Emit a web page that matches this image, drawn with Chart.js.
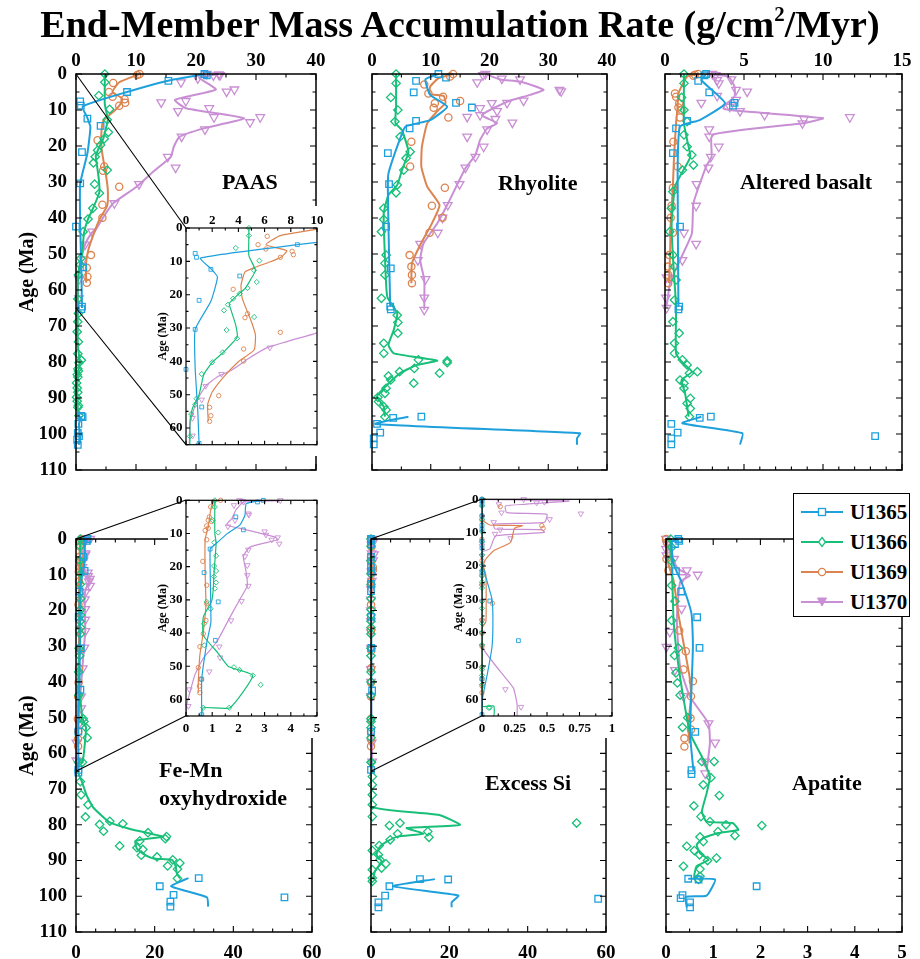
<!DOCTYPE html>
<html>
<head>
<meta charset="utf-8">
<script src="https://cdn.jsdelivr.net/npm/chart.js@4/dist/chart.umd.min.js"></script>
<style>
  html, body { margin: 0; padding: 0; background: #fff; }
  #page { position: relative; width: 920px; height: 959px; overflow: hidden; background: #fff;
          font-family: 'Liberation Serif', 'Times New Roman', serif; font-weight: bold; color: #000; }
  #title { position: absolute; left: 0; top: 0; width: 920px; height: 48px; line-height: 48px;
           text-align: center; font-size: 38px; z-index: 6; white-space: nowrap; }
  #title sup { font-size: 0.55em; line-height: 0; vertical-align: 0.75em; }
  canvas.plot { position: absolute; }
  canvas.main { z-index: 1; }
  canvas.inset { z-index: 2; }
  #links { position: absolute; left: 0; top: 0; z-index: 3; pointer-events: none; }
  .tag { position: absolute; font-size: 22px; line-height: 24px; white-space: nowrap; z-index: 5; }
  #legend { position: absolute; left: 793px; top: 493px; width: 117px; height: 124px; box-sizing: border-box;
            border: 1.5px solid #000; background: #fff; z-index: 4; }
  #legend .row { position: absolute; left: 0; height: 30px; width: 114px; }
  #legend svg { position: absolute; left: 6px; top: 0; }
  #legend span { position: absolute; left: 56px; top: 0; font-size: 21px; line-height: 30px; }
</style>
</head>
<body>
<div id="page">
  <div id="title">End-Member Mass Accumulation Rate (g/cm<sup>2</sup>/Myr)</div>

  <div class="tag" style="left:222px;top:170px">PAAS</div>
  <div class="tag" style="left:498px;top:171px">Rhyolite</div>
  <div class="tag" style="left:740px;top:170px">Altered basalt</div>
  <div class="tag" style="left:159px;top:756px;line-height:28px">Fe-Mn<br>oxyhydroxide</div>
  <div class="tag" style="left:485px;top:771px">Excess Si</div>
  <div class="tag" style="left:792px;top:771px">Apatite</div>

  <div id="legend">
    <div class="row" style="top:2.5px">
      <svg width="46" height="30"><line x1="1" y1="15" x2="43" y2="15" stroke="#1ea0dc" stroke-width="2"/>
        <rect x="18.5" y="11.5" width="7" height="7" fill="#fff" stroke="#1ea0dc" stroke-width="1.3"/></svg>
      <span>U1365</span>
    </div>
    <div class="row" style="top:32.5px">
      <svg width="46" height="30"><line x1="1" y1="15" x2="43" y2="15" stroke="#17bf78" stroke-width="2"/>
        <polygon points="22,10.5 25.5,15 22,19.5 18.5,15" fill="#fff" stroke="#17bf78" stroke-width="1.3"/></svg>
      <span>U1366</span>
    </div>
    <div class="row" style="top:62.5px">
      <svg width="46" height="30"><line x1="1" y1="15" x2="43" y2="15" stroke="#dc8450" stroke-width="2"/>
        <circle cx="22" cy="15" r="3.6" fill="#fff" stroke="#dc8450" stroke-width="1.3"/></svg>
      <span>U1369</span>
    </div>
    <div class="row" style="top:92.5px">
      <svg width="46" height="30"><line x1="1" y1="15" x2="43" y2="15" stroke="#c98fd4" stroke-width="2"/>
        <polygon points="17.5,11 26.5,11 22,19" fill="#c98fd4" stroke="#c98fd4" stroke-width="1"/></svg>
      <span>U1370</span>
    </div>
  </div>

  <canvas id="links" width="920" height="959"></canvas>
</div>

<script>
// ─── Sites ────────────────────────────────────────────────────────────────────

const SITES = ['U1365', 'U1366', 'U1369', 'U1370'];
const SITE_COLORS = ['#1ea0dc', '#17bf78', '#dc8450', '#c98fd4'];
const SITE_MARKERS = ['rect', 'rectRot', 'circle', 'triangle'];

// ─── Data: [MAR value, age (Ma)]; null breaks a curve ─────────────────────────

// PAAS
const paas1365 = [[21.4,0],[21.8,0.4],[15.4,1.9],[8.5,5.0],[0.7,7.6],[0.8,8.8],[1.9,12.4],[4.1,14.4],[1.0,21.7],[0.7,30.4],[0,42.4],[1.2,53.7],[1.0,64.6],[0.9,65.3],[0.9,95.0],[1.1,95.3],[0.4,97.2],[0.3,99.7],[0.5,100.6],[0.2,101.6],[0.3,103.0]];
const paas1365Line = [[21.6,0],[15.5,1.8],[8.5,5.0],[1.1,9],[1.9,12.2],[2.4,14.7],[1.9,22],[0.7,30.4],[0.7,42],[0.9,55],[1.0,65],null,[0.9,95],[0.5,97.2],[0.6,100],[0.5,103]];
const paas1366 = [[4.8,0],[4.8,2.3],[3.8,6.0],[5.6,9.8],[5.2,12.7],[5.4,16.2],[4.7,18.0],[4.1,19.7],[3.6,21.2],[3.2,23.0],[2.9,24.7],[5.2,26.7],[3.1,30.6],[3.9,33.1],[2.8,37.3],[2.0,40.3],[1.2,43.8],[0.8,51.2],[0.7,53.0],[0.4,55.8],[0.3,62.5],[0.4,66.5],[0.3,68.8],[0.2,71.6],[0.4,74.4],[0.3,77.7],[0.9,79.5],[0.5,80.2],[0.3,81.9],[0.4,82.5],[0.2,83.5],[0.3,84.2],[0.1,85.8],[0.2,87.2],[0.3,88.4],[0.1,89.8],[0.2,90.9],[0.4,92.1],[0.3,92.6],[0.5,94.9]];
const paas1366Line = [[4.8,0],[4.8,2.3],[4.8,8.3],[5.3,12.7],[4.9,15.7],[4.5,18.2],[3.9,20.2],[3.3,22.7],[3.4,24.2],[3.8,29.2],[3.9,32.8],[2.9,37.1],[2.0,40.3],[1.35,44],[1.0,50],[0.5,54],[0.3,58],[0.3,65],[0.3,75],[0.6,80],[0.3,84],[0.2,90],[0.4,95]];
const paas1369 = [[10.6,0],[10.2,0.3],[6.2,2.5],[5.5,5.0],[6.1,6.3],[8.1,7.0],[8.2,8.0],[7.2,8.8],[3.6,18.4],[4.7,25.7],[4.5,26.9],[7.2,31.3],[4.4,36.3],[4.4,39.9],[2.5,50.3],[1.8,53.8],[1.9,56.3],[1.8,58.0]];
const paas1369Line = [[10.6,0],[7.2,2.3],[6.1,5.0],[7.7,6.8],[7.3,8.6],[6.4,10.2],[5.2,11.9],[4.5,13.2],[4.2,17.2],[4.3,21.2],[5.0,28.2],[5.3,32.1],[5.2,36.6],[4.0,40.1],[2.9,44.6],[2.0,49.2],[1.65,53],[1.7,58]];
const paas1370 = [[21.8,0],[22.9,0.4],[23.8,0.1],[24.0,0.3],[20.3,1.2],[17.5,2.3],[26.4,4.3],[25.1,4.9],[18.3,7.5],[14.2,7.9],[22.2,9.5],[17.0,10.3],[30.7,12.0],[23.0,12.0],[29.0,13.4],[21.5,15.4],[17.6,17.4],[15.3,23.0],[16.6,26.0],[10.5,30.6],[6.4,35.9],[2.7,43.8],[1.5,47.4],[1.2,51.5],[0.5,57.0],[0.5,62.3]];
const paas1370Line = [[23.8,0],[20.5,1.0],[23.3,4.3],[16.5,7.2],[18.3,9.5],[28.0,12.3],[21.3,15.1],[17.3,17.4],[16.3,20.2],[15.8,23],[12.9,27.1],[10.1,31.3],[6.2,35.9],[4.8,39.1],[3.5,42.6],[2.4,44.6],[1.5,47.4],[0.8,52],[0.35,58],[0.25,65]];

// Rhyolite
const rhy1365 = [[11.3,0],[12.6,1.0],[7.5,1.9],[7.1,5.1],[14.3,8.0],[17.0,9.3],[7.5,13.0],[6.4,15.1],[2.7,22.0],[2.9,30.6],[2.4,42.4],[3.2,54.0],[3.1,64.6],[3.2,65.4],[3.6,95.5],[8.4,95.2],[0.85,97.2],[1.4,99.6],[0.3,101.2],[0.3,102.9]];
const rhy1365Line = [[11.3,0],[9.1,1.5],[9.9,5.8],[12.8,9.1],[9.9,12.8],[5.7,14.6],[4.7,18.3],[2.8,27.6],[2.7,32.2],[2.85,46],[3.1,64.6],null,[6.2,95.2],[0.6,97.2],[35.4,99.8],[34.9,101.2],[34.9,103]];
const rhy1366 = [[4.1,0],[4.1,2.6],[3.2,6.5],[4.4,10],[3.9,13.2],[4.8,17.4],[6.5,21.6],[5.8,23.4],[5.4,26.7],[4.3,30.8],[4.1,33],[2.0,37.3],[2.0,40.4],[1.6,43.8],[2.4,50.3],[2.2,52.6],[2.2,55.8],[1.6,62.3],[4.3,67],[4.4,69],[4.4,72],[2.0,74.8],[2.0,77.6],[7.9,79.4],[12.8,79.7],[12.8,80.2],[7.2,81.8],[4.7,82.7],[11.5,83.1],[2.8,83.9],[3.2,85],[7.1,85.9],[2.4,87.3],[2.2,88.7],[1.0,89.8],[1.1,91],[2.0,92.4],[2.4,93.3],[2.2,95.2]];
const rhy1366Line = [[4.1,0],[4.1,9],[4.0,13.7],[5.1,15.6],[6.2,21.6],[5.1,26.7],[4.3,30.8],[2.8,33.6],[2.0,38.7],[2.2,50.7],[2.6,61.9],[4.3,66.5],[3.7,71.1],[2.8,75.3],[3.7,77.6],[11.1,79.6],[7.7,80.8],[4.8,83.1],[2.0,87.3],[0.85,89.6],[2.0,92.4],[2.2,95.2]];
const rhy1369 = [[13.8,0],[13.3,0.7],[8.9,2.9],[9.6,5.4],[12.1,6.3],[15.0,7.5],[10.7,8.1],[10.5,9.4],[13.0,12.1],[6.7,18.8],[6.5,25.7],[12.4,31.6],[10.2,36.6],[12.0,39.9],[9.8,44.1],[6.4,50.3],[6.7,53.5],[6.8,55.8],[6.8,58.1]];
const rhy1369Line = [[13.8,0],[11.3,1.2],[9.9,3.5],[9.9,5.6],[12.2,6.1],[12.5,8.1],[11.3,10],[9.4,13.7],[8.5,20.2],[8.4,25.7],[9.4,31.3],[11.5,36.4],[10.2,41.5],[8.2,47.5],[6.8,52.6],[6.7,58.1]];
const rhy1370 = [[19.3,0],[18.9,0.3],[22.1,1.3],[25.2,1.5],[17.9,2.3],[31.9,4.4],[32.2,4.8],[25.8,7.4],[23.0,8.0],[20.4,8.1],[18.4,9.5],[21.3,10.3],[18.4,11.4],[16.2,11.9],[21.0,12.5],[23.9,13.5],[19.6,15.4],[16.2,17.4],[19.0,20.2],[17.6,23.0],[15.9,26.0],[14.9,30.6],[12.9,36.4],[12.0,39.9],[11.2,44.1],[8.2,47.2],[7.8,51.7],[9.1,57.0],[8.9,62.1],[8.9,65.5]];
const rhy1370Line = [[19.3,0],[21.8,1.5],[25.2,2.1],[29.2,4.4],[26.9,5.8],[23.0,7.7],[18.7,11.4],[21.3,13.7],[19.6,15.1],[18.4,18.3],[17.6,22.5],[15.9,26.2],[12.8,36.4],[11.1,41.5],[8.8,47],[8.2,51.7],[8.9,57.2],[8.9,65.5]];

// Altered basalt
const alt1365 = [[2.6,0],[2.5,0.4],[2.1,1.9],[2.8,5.1],[4.4,8.0],[4.3,8.8],[1.4,13.0],[0.7,15.1],[0.5,22.0],[0.95,42.4],[0.9,64.6],[0.85,65.4],[2.9,95.2],[2.2,95.5],[0.4,97.2],[0.8,99.6],[13.3,100.6],[0.4,101.2],[0.4,102.9]];
const alt1365Line = [[2.6,0],[2.3,1.7],[3.8,8.1],[2.2,12.8],[0.95,14.6],[0.8,27.6],[0.85,64.6],null,[2.3,95.2],[1.1,97],[4.9,99.8],[4.75,102.9]];
const alt1366 = [[1.2,0],[1.2,2.6],[1.05,6.5],[1.2,10],[1.4,13.2],[1.2,16.9],[1.4,20.2],[1.7,22.5],[1.8,25.3],[1.1,26.7],[0.5,32.7],[0.4,37.3],[0.3,43.8],[0.5,50.3],[0.6,53.5],[0.7,57.2],[0.6,62.8],[0.5,68.8],[0.9,72],[0.6,74.8],[0.6,77.6],[1.1,79.4],[1.4,80.8],[2.05,82.7],[1.55,83.1],[0.95,85],[1.2,85.9],[1.2,87.3],[1.6,90.1],[1.4,91.5],[1.6,92.9],[1.55,95.2]];
const alt1366Line = [[1.2,0],[1.2,13.7],[1.4,18.3],[1.6,23],[1.05,27.6],[0.63,31.3],[0.42,41.5],[0.5,50.7],[0.7,64.6],[0.7,77.6],[1.15,80.4],[1.7,82.7],[1.05,85],[1.27,88.7],[1.5,95.2]];
const alt1369 = [[2.1,0],[1.9,0.2],[1.8,0.5],[0.63,5.4],[0.7,6.3],[0.9,8.1],[0.85,9.3],[1.05,10],[0.95,12.1],[0.53,18.8],[0.8,25.7],[0.5,31.6],[0.42,36.6],[0.36,39.9],[0.5,44.1],[0.27,50.3],[0.2,53.5],[0.2,55.8],[0.2,58.1]];
const alt1369Line = [[2.1,0],[1.4,0.7],[0.85,5.4],[0.8,9],[0.7,13.7],[0.57,23],[0.49,32.2],[0.36,41.5],[0.32,50.7],[0.25,58.1]];
const alt1370 = [[3.0,0],[3.2,0.3],[3.3,1.7],[4.2,1.5],[3.4,2.6],[5.2,4.9],[4.5,4.4],[3.3,6.1],[4.5,7.2],[2.3,8.0],[4.1,9.1],[4.75,10.3],[6.3,11.4],[11.7,12.0],[8.8,12.5],[8.7,13.7],[2.8,15.4],[2.8,17.4],[3.4,20.2],[2.9,23.0],[2.75,26.0],[2.0,30.6],[1.97,36.6],[1.2,44.1],[1.97,47.2],[1.1,51.7],[0.1,56.5],[0.06,62.1],[0.1,65]];
const alt1370Line = [[2.6,0],[4.0,0.7],[4.4,3.5],[4.4,6.3],[3.8,8.6],[3.7,9.6],[4.75,10.3],[10.0,12.3],[8.7,13.7],[3.0,16.9],[2.95,23],[2.6,25.7],[1.8,35.9],[1.7,44.3],[0.95,51.7],[0.32,58.1],[0.1,64.6]];

// Fe-Mn oxyhydroxide
const femn1365 = [[2.95,0],[2.73,0.5],[1.9,5.0],[2.19,8.9],[0.92,14.7],[0.69,21.8],[1.23,30.6],[1.12,42.2],[0.6,53.9],[0.6,64.6],[0.6,65.4],[31.2,94.9],[21.3,97.2],[24.8,99.6],[53.0,100.3],[24.0,101.5],[24.0,102.9]];
const femn1365Line = [[2.95,0],[2.3,1],[2.25,4.5],[2.06,7.4],[1.6,9.9],[1.1,13.4],[0.92,14.7],[0.95,36.7],[0.8,42.6],[0.6,54],[0.6,65],null,[28.6,94.9],[24.2,97.2],[33.3,100.3],[33.6,102.9]];
const femn1366 = [[1.1,0],[1.1,2],[1.02,6],[1.23,9.7],[1.08,12.7],[1.15,16.7],[1.07,19.8],[1.15,21.3],[1.07,23],[1.15,24.8],[1.1,26.6],[0.79,30.6],[0.94,32.7],[0.69,37.2],[0.7,43.7],[1.83,50.3],[2.04,51.1],[2.55,52.8],[2.85,55.6],[1.65,62.5],[0.66,62.5],[1.1,67.9],[1.3,71.6],[3.05,74.4],[2.4,77.8],[6.0,79.9],[7.0,81.8],[8.6,79],[11.9,79.7],[18.3,82.2],[23.0,83.3],[22.7,83.9],[11.1,85.9],[16.2,84.5],[15.5,86.4],[16.6,88.5],[17.0,86.9],[20.6,89],[24.6,89.8],[23.3,91.5],[26.4,90.7],[25.8,92.4],[25.8,95]];
const femn1366Line = [[1.1,0],[1.1,9.9],[1.15,12.9],[1.07,21.8],[1.04,26.8],[0.98,30.3],[0.66,35.2],[0.66,40.7],[1.23,46.1],[1.62,50.1],[2.55,52.8],[1.68,62.5],[0.66,62.5],[0.6,65.5],[1.5,67.9],[2.8,72],[4.5,75.3],[8.7,79.4],[14.2,81.3],[18,82.2],[21.9,83.3],[15.1,84.5],[15.5,86.7],[17.2,88.2],[19.7,89.4],[24.4,89.8],[25.3,91.5],[25.7,93.8],[26.5,95]];
const femn1369 = [[1.32,0],[1.05,0.5],[0.94,2],[0.89,5],[0.85,6],[0.98,6.4],[0.79,7.7],[0.85,8.4],[0.73,9.1],[0.79,11.9],[0.64,18.4],[0.79,25.6],[0.79,31.2],[0.76,36.2],[0.66,40.2],[0.53,44.1],[0.47,50.4],[0.56,53.9],[0.51,56],[0.53,58]];
const femn1369Line = [[1.32,0],[1.05,0.5],[0.94,3],[0.85,7.9],[0.73,11.9],[0.73,21.8],[0.76,31.7],[0.66,39.7],[0.53,46.6],[0.47,54.6],[0.47,58]];
const femn1370 = [[2.04,0],[2.2,0.5],[3.6,0],[2.15,0.2],[1.83,1.5],[2.38,4],[2.4,4.4],[1.87,6],[1.6,7.9],[3.0,9.4],[3.05,10.4],[3.5,11.2],[3.27,11.9],[3.56,13.1],[2.38,14.9],[2.25,16.9],[2.34,19.6],[2.34,22.6],[2.38,25.8],[2.12,30.4],[1.72,36.2],[1.27,44.1],[1.3,47.4],[0.89,51.6],[0.13,57],[0.09,62]];
const femn1370Line = [[2.0,0],[3.5,0.2],[2.2,0.5],[1.9,3],[1.75,5.5],[1.55,7.4],[2.19,8.7],[2.82,9.9],[3.4,11.1],[3.5,11.9],[2.44,14.1],[2.19,16.9],[2.3,21.8],[2.34,25.8],[2.06,29.8],[1.68,35.2],[1.17,42.7],[0.66,47.6],[0.34,52.6],[0.03,61.5],[0,65]];

// Excess Si
const xsi1365 = [[0,0],[0,0.5],[0,1.5],[0,5],[0,7.8],[0,9],[0,12.6],[0,14.6],[0,21.8],[0.06,30.5],[0.28,42.4],[0,53.9],[0,64.6],[12.5,95.2],[19.7,95.3],[4.7,97.2],[3.6,99.8],[58.0,100.7],[1.9,101.7],[1.9,103.1]];
const xsi1365Line = [[0,0],[0,18.8],[0.076,29.8],[0.084,36.7],[0.076,44.6],[0.04,52.6],[0,60.5],[0,65],null,[16.3,95.2],[5.7,97.2],[22.3,99.8],[20.6,101.7],[20.6,103.1]];
const xsi1366 = [[0,0],[0,2],[0,6],[0,9.7],[0,12.7],[0,16.7],[0,19.8],[0,21.3],[0,23],[0,24.8],[0,26.6],[0,30.6],[0,32.7],[0,37.2],[0,40],[0,43.7],[0,50.3],[0,51.1],[0,52.8],[0,55.6],[0.05,62.5],[0.06,62.5],[0.34,66.5],[0.34,68.8],[0.34,71.6],[0.34,74.4],[0.34,77.7],[7.4,79.5],[52.5,79.5],[4.7,80.2],[14.5,81.9],[6.8,82.5],[14.8,83.5],[4.9,84.2],[2.1,85.8],[0.34,87.2],[1.9,88.4],[2.3,89.8],[3.8,90.9],[2.7,92.1],[0.34,92.6],[0.34,94.9],[0.34,95.8]];
const xsi1366Line = [[0,0],[0,62],[0.09,62],[0.09,65],[0,66],[0,74.9],[17.2,77.2],[22.7,80],[9.1,80.9],[13.4,82.5],[6.8,83.3],[4.0,84.7],[2.3,86.1],[1.4,88.4],[2.7,90.2],[1.0,93],[0.6,95.3]];
const xsi1369 = [[0,0],[0.14,2.2],[0,5],[0,6.3],[0.46,7.9],[0.47,8.7],[0,12],[0,18.4],[0,25.6],[0.08,31.2],[0,36.2],[0,40.2],[0,44.1],[0,50.4],[0,53.9],[0,56],[0,58]];
const xsi1369Line = [[0,0],[0,6],[0.06,7.7],[0.31,7.9],[0.25,8.7],[0.22,12.9],[0.09,15.4],[0.03,17.9],[0.01,19.8],[0.03,22.8],[0.03,36.7],[0,38.7],[0,58]];
const xsi1370 = [[0.32,0],[0.42,1],[0.48,0.8],[0.13,1.5],[0.15,4],[0.76,4.3],[0.52,6],[0.09,6.9],[0.14,9.1],[0.1,10.4],[0.22,11.7],[0,14],[0,17],[0,20],[0,23],[0,26],[0,30.6],[0,36.4],[0,40],[0,44],[0.18,57],[0.3,62.3]];
const xsi1370Line = [[0,0],[0.67,0.5],[0.33,1.5],[0.18,2],[0.19,4],[0.5,4.5],[0.48,6.9],[0.09,7.4],[0.1,8.9],[0.46,9.1],[0.48,9.9],[0.11,10.9],[0.09,11.9],[0.06,14.9],[0,15.9],[0,44],[0.24,56.5],[0.27,61.5],[0.27,65]];

// Apatite
const apa1365 = [[0.26,0],[0.28,0.5],[0.19,1.4],[0.21,9],[0.32,14.7],[0.66,21.9],[0.71,30.5],[0.62,54],[0.54,64.7],[0.54,65.8],[0.47,95.1],[0.69,95.3],[1.92,97.2],[0.35,99.7],[0.31,100.5],[0.51,101.7],[0.51,103.1]];
const apa1365Line = [[0.26,0],[0.12,0.9],[0.16,7],[0.33,12.1],[0.54,20.9],[0.57,30.2],[0.51,54.4],[0.58,64.7],null,[0.47,95.1],[1.04,95.3],[0.86,99.8],[0.42,100.2],[0.44,103.1]];
const apa1366 = [[0.1,0],[0.12,2.3],[0.1,6],[0.12,13],[0.19,17.4],[0.12,22.8],[0.26,30.5],[0.18,32.6],[0.21,37.5],[0.24,40.3],[0.3,43.7],[0.46,50],[0.35,52.7],[0.76,62.3],[1.02,62.3],[0.95,66.8],[0.79,68.8],[1.13,71.8],[0.59,74.7],[0.74,77.7],[0.93,79.1],[1.27,80],[2.03,80.2],[1.1,81.9],[1.46,83],[0.72,83.4],[0.79,84.7],[0.44,86],[0.6,87.2],[0.71,88.4],[1.07,89.3],[0.88,90],[0.37,91.6],[0.72,92.4],[0.72,94.4],[0.69,95.3]];
const apa1366Line = [[0.1,0],[0.12,7],[0.14,14.4],[0.16,22.8],[0.23,32.1],[0.33,41.4],[0.51,54.4],[0.76,60.9],[0.93,66.5],[0.86,71.2],[0.76,76.3],[0.86,79.1],[1.41,79.5],[1.53,81.4],[1.11,82.3],[0.79,83.7],[0.65,85.6],[0.72,87.9],[0.9,89.8],[0.65,91.6],[0.6,94],[0.6,95.3]];
const apa1369 = [[0,0],[0.02,1],[0.01,5.6],[0.05,8.8],[0.28,25.6],[0.42,31.4],[0.37,36.5],[0.57,39.8],[0.53,44],[0.52,50.2],[0.53,53.3],[0.39,55.8],[0.39,58.1]];
const apa1369Line = [[0,0],[0.05,7],[0.16,11.6],[0.26,20.9],[0.4,31.2],[0.5,38.6],[0.53,44.2],[0.47,52.6],[0.5,57.2]];
const apa1370 = [[0,0],[0.02,1.4],[0,2.8],[0.01,4.6],[0.17,5.6],[0.44,8.8],[0.67,10],[0.35,10.7],[0.33,19.5],[0.08,26],[0.01,30.2],[0.19,36.7],[0.37,44],[0.9,51.6],[1.04,57],[0.83,62.3],[0.83,65.6]];
const apa1370Line = [[0,0],[0.12,5.1],[0.26,8.4],[0.51,10.2],[0.3,12],[0.23,22.8],[0.3,35.8],[0.51,44.2],[0.9,51.6],[0.93,57.2],[0.86,64.7]];

// ─── Panel layout (chart-area corners in page pixels) ─────────────────────────

const PAAS = { pts: [paas1365, paas1366, paas1369, paas1370], lines: [paas1365Line, paas1366Line, paas1369Line, paas1370Line] };
const RHY = { pts: [rhy1365, rhy1366, rhy1369, rhy1370], lines: [rhy1365Line, rhy1366Line, rhy1369Line, rhy1370Line] };
const ALT = { pts: [alt1365, alt1366, alt1369, alt1370], lines: [alt1365Line, alt1366Line, alt1369Line, alt1370Line] };
const FEMN = { pts: [femn1365, femn1366, femn1369, femn1370], lines: [femn1365Line, femn1366Line, femn1369Line, femn1370Line] };
const XSI = { pts: [xsi1365, xsi1366, xsi1369, xsi1370], lines: [xsi1365Line, xsi1366Line, xsi1369Line, xsi1370Line] };
const APA = { pts: [apa1365, apa1366, apa1369, apa1370], lines: [apa1365Line, apa1366Line, apa1369Line, apa1370Line] };

const MAIN_PANELS = [
  { set: PAAS, area: [76, 74, 316, 470], xMax: 40, xStep: 10, xMinor: 5,   xPos: 'top',    yLabels: true },
  { set: RHY,  area: [372, 74, 607, 470], xMax: 40, xStep: 10, xMinor: 5,  xPos: 'top',    yLabels: false },
  { set: ALT,  area: [665, 74, 902, 470], xMax: 15, xStep: 5, xMinor: 1,   xPos: 'top',    yLabels: false },
  { set: FEMN, area: [76, 539, 312, 932], xMax: 60, xStep: 20, xMinor: 5,  xPos: 'bottom', yLabels: true },
  { set: XSI,  area: [371, 539, 606, 932], xMax: 60, xStep: 20, xMinor: 5, xPos: 'bottom', yLabels: false },
  { set: APA,  area: [666, 539, 902, 932], xMax: 5, xStep: 1, xMinor: 0.5, xPos: 'bottom', yLabels: false },
];

const INSETS = [
  { set: PAAS, parent: 0, area: [186, 228, 317, 447], xMax: 10, xStep: 2, xMinor: 1,        xPos: 'top' },
  { set: FEMN, parent: 3, area: [186, 500, 317, 718], xMax: 5, xStep: 1, xMinor: 0.5,       xPos: 'bottom' },
  { set: XSI,  parent: 4, area: [482, 499, 612, 718], xMax: 1, xStep: 0.25, xMinor: 0.125,  xPos: 'bottom' },
];

const LOOK = {
  main:  { font: 19, titleFont: 20, band: 34, yBand: 76, ySide: 22, side: 26, major: 6, minor: 3.5, frame: 1.5,
           line: 2, radius: [4.6, 4.2, 3.6, 5], border: 1.3, padTop: 2, padBottom: 9.5, yPad: 9, titlePad: 16, yMax: 110 },
  inset: { font: 13, titleFont: 12, band: 22, yBand: 31, ySide: 31, side: 9, major: 4, minor: 2.5, frame: 1.2,
           line: 1.2, radius: [2.7, 2.6, 2.2, 3.2], border: 0.9, padTop: 0, padBottom: 4.5, yPad: 3.5, titlePad: 1, yMax: 65 },
};

// ─── Frame + inward tick plugin ───────────────────────────────────────────────

function drawTicks(ctx, scale, a, step, majorStep, major, minor, horizontal) {
  const span = scale.max - scale.min;
  for (let k = 0; k * step <= span + 1e-9; k++) {
    const v = scale.min + k * step;
    const isMajor = Math.abs(v / majorStep - Math.round(v / majorStep)) < 1e-6;
    const len = isMajor ? major : minor;
    const p = scale.getPixelForValue(v);
    ctx.beginPath();
    if (horizontal) {
      ctx.moveTo(p, a.top); ctx.lineTo(p, a.top + len);
      ctx.moveTo(p, a.bottom); ctx.lineTo(p, a.bottom - len);
    } else {
      ctx.moveTo(a.left, p); ctx.lineTo(a.left + len, p);
      ctx.moveTo(a.right, p); ctx.lineTo(a.right - len, p);
    }
    ctx.stroke();
  }
}

const frameTicks = {
  id: 'frameTicks',
  beforeDraw(chart, args, opts) {
    if (!opts.white) return;
    const { ctx, chartArea: a } = chart;
    ctx.save();
    ctx.fillStyle = '#fff';
    ctx.fillRect(a.left - 18, 0, chart.width - (a.left - 18), chart.height);
    ctx.restore();
  },
  afterDatasetsDraw(chart, args, opts) {
    const { ctx, chartArea: a, scales: { x, y } } = chart;
    ctx.save();
    ctx.strokeStyle = '#000';
    ctx.lineWidth = 1.1;
    drawTicks(ctx, x, a, opts.xMinor, opts.xStep, opts.major, opts.minor, true);
    drawTicks(ctx, y, a, 5, 10, opts.major, opts.minor, false);
    ctx.lineWidth = opts.frame;
    ctx.strokeRect(a.left, a.top, a.right - a.left, a.bottom - a.top);
    ctx.restore();
  },
};

// ─── Chart builder ────────────────────────────────────────────────────────────

const toXY = rows => rows.map(r => (r ? { x: r[0], y: r[1] } : { x: null, y: null }));

function buildDatasets(set, look, inset) {
  const out = [];
  SITES.forEach((site, i) => {
    out.push({
      label: site + ' curve',
      data: toXY(set.lines[i]),
      showLine: true,
      pointRadius: 0,
      borderColor: SITE_COLORS[i],
      borderWidth: look.line,
      tension: 0.15,
      spanGaps: false,
      clip: 0,
    });
    out.push({
      label: site,
      data: toXY(set.pts[i]),
      showLine: false,
      pointStyle: SITE_MARKERS[i],
      rotation: i === 3 ? 180 : 0,
      pointRadius: look.radius[i],
      pointBorderWidth: look.border,
      borderColor: SITE_COLORS[i],
      backgroundColor: 'rgba(255,255,255,0)',
      clip: inset ? { left: 6, top: 6, right: 0, bottom: 0 } : 6,
    });
  });
  return out;
}

function makePlot(spec, kind) {
  const look = LOOK[kind];
  const [x0, y0, x1, y1] = spec.area;
  const isTop = spec.xPos === 'top';
  const yBand = kind === 'main' ? (spec.yLabels ? look.yBand : look.ySide) : look.yBand;
  const showY = kind === 'inset' || spec.yLabels;
  const w = yBand + (x1 - x0) + look.side;
  const h = look.band + (y1 - y0) + look.side;

  const canvas = document.createElement('canvas');
  canvas.className = 'plot ' + kind;
  canvas.width = w;
  canvas.height = h;
  canvas.style.left = (x0 - yBand) + 'px';
  canvas.style.top = (isTop ? y0 - look.band : y0 - look.side) + 'px';
  document.getElementById('page').appendChild(canvas);

  const tickFont = { family: "'Liberation Serif', 'Times New Roman', serif", weight: 'bold', size: look.font };

  const chart = new Chart(canvas, {
    type: 'scatter',
    data: { datasets: buildDatasets(spec.set, look, kind === 'inset') },
    options: {
      responsive: false,
      animation: false,
      devicePixelRatio: 1,
      events: [],
      layout: { padding: { left: 0, right: look.side, top: isTop ? 0 : look.side, bottom: isTop ? look.side : 0 } },
      plugins: {
        legend: { display: false },
        tooltip: { enabled: false },
        frameTicks: { white: kind === 'inset', xMinor: spec.xMinor, xStep: spec.xStep,
                      major: look.major, minor: look.minor, frame: look.frame },
      },
      scales: {
        x: {
          type: 'linear',
          position: spec.xPos,
          min: 0,
          max: spec.xMax,
          grid: { display: false, drawTicks: false },
          border: { display: false },
          ticks: {
            stepSize: spec.xStep,
            autoSkip: false,
            maxRotation: 0,
            color: '#000',
            font: tickFont,
            padding: isTop ? look.padTop : look.padBottom,
            callback: v => String(Math.round(v * 1000) / 1000),
          },
          afterFit: s => { s.height = look.band; },
        },
        y: {
          type: 'linear',
          position: 'left',
          reverse: true,
          min: 0,
          max: look.yMax,
          grid: { display: false, drawTicks: false },
          border: { display: false },
          ticks: {
            display: showY,
            stepSize: 10,
            includeBounds: false,
            autoSkip: false,
            color: '#000',
            font: tickFont,
            padding: look.yPad,
          },
          title: {
            display: showY,
            text: 'Age (Ma)',
            color: '#000',
            font: { family: "'Liberation Serif', 'Times New Roman', serif", weight: 'bold', size: look.titleFont },
            padding: { top: look.titlePad, bottom: 0 },
          },
          afterFit: s => { s.width = yBand; },
        },
      },
    },
    plugins: [frameTicks],
  });

  // snap the chart area onto the intended page position
  const a = chart.chartArea;
  const left = x0 - a.left;
  const top = y0 - a.top;
  canvas.style.left = left + 'px';
  canvas.style.top = top + 'px';
  return { chart, left, top };
}

Chart.defaults.font.family = "'Liberation Serif', 'Times New Roman', serif";
Chart.defaults.color = '#000';

const mains = MAIN_PANELS.map(p => makePlot(p, 'main'));
const insets = INSETS.map(p => makePlot(p, 'inset'));

// ─── Zoom connector lines ─────────────────────────────────────────────────────

function pagePoint(entry, xv, yv) {
  const { x, y } = entry.chart.scales;
  return [entry.left + x.getPixelForValue(xv), entry.top + y.getPixelForValue(yv)];
}

const links = document.getElementById('links').getContext('2d');
links.strokeStyle = '#000';
links.lineWidth = 1.1;
INSETS.forEach((spec, i) => {
  const parent = mains[spec.parent];
  const child = insets[i];
  [0, 65].forEach(age => {
    const [ax, ay] = pagePoint(parent, 0, age);
    const [bx, by] = pagePoint(child, 0, age);
    links.beginPath();
    links.moveTo(ax, ay);
    links.lineTo(bx, by);
    links.stroke();
  });
});
</script>
</body>
</html>
